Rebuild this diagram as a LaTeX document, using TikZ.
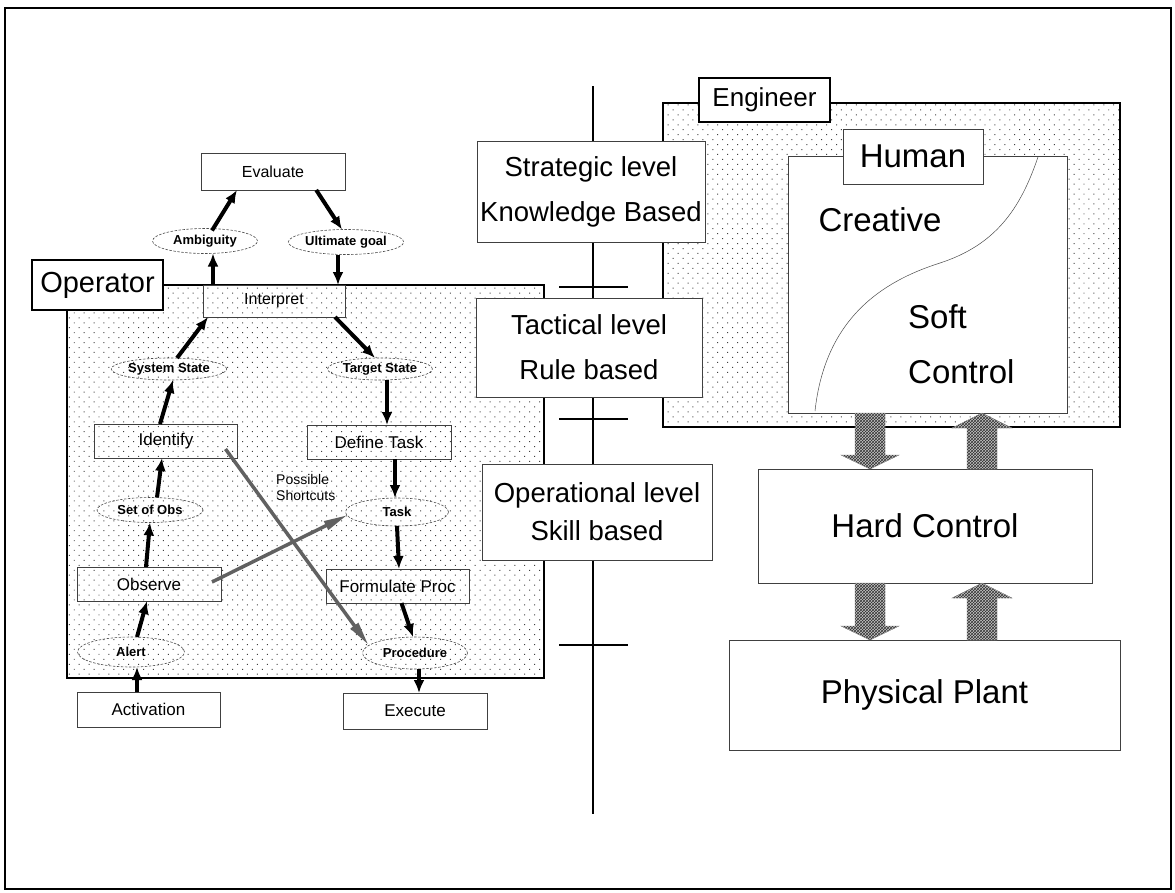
\documentclass[tikz,border=0pt]{standalone}
\usepackage{fontspec}
\setmainfont{Liberation Sans}
\usetikzlibrary{arrows.meta,shapes.geometric,calc,patterns,patterns.meta}

\begin{document}
\begin{tikzpicture}[
  x=1pt, y=-1pt,
  font=\fontsize{17}{20}\selectfont,
  stepbox/.style={draw=black!75, line width=0.6pt, inner sep=0pt, outer sep=0pt, minimum width=143, minimum height=34},
  whitebox/.style={stepbox, fill=white},
  oval/.style={ellipse, draw=black!70, line width=0.6pt, dash pattern=on 2.5pt off 1.5pt, inner sep=0pt, outer sep=0pt, minimum width=105, minimum height=25, font=\fontsize{13}{15}\selectfont\bfseries},
  tag/.style={draw, line width=1.8pt, fill=white, inner sep=0pt, outer sep=0pt},
  levelbox/.style={draw=black!75, line width=0.6pt, fill=white, align=center, inner sep=0pt, font=\fontsize{27.5}{45}\selectfont},
  bigbox/.style={draw=black!75, line width=0.6pt, fill=white, inner sep=0pt, outer sep=0pt, font=\fontsize{33}{40}\selectfont},
  area/.style={draw, line width=2pt, inner sep=0pt, outer sep=0pt, pattern={Dots[distance=7pt, angle=45, radius=0.7pt]}, pattern color=black!75},
  flow/.style={-{Latex[length=13pt,width=11pt]}, line width=4pt},
  shortcut/.style={-{Triangle[length=24pt,width=9pt]}, line width=3.5pt, draw=black!62},
  fat/.style={preaction={fill=gray!45}, pattern=crosshatch, pattern color=black!80, draw=black!50, line width=0.4pt}
]
\useasboundingbox (0,0) rectangle (1175,892);
\draw[line width=1.6pt] (5,8) rectangle (1171,889);

% shaded regions
\node[area, minimum width=477, minimum height=393] (oparea) at (305.5,481.5) {};
\node[area, minimum width=457, minimum height=324] (engarea) at (891.5,265) {};

% level axis
\coordinate (axtop) at (593,86);
\coordinate (axbot) at (593,814);
\draw[line width=2.2pt] (axtop) -- (axbot);
\foreach \ty in {287,419,645}
  \draw[line width=2.6pt] (559,\ty) -- (628,\ty);

\node[levelbox, minimum width=228, minimum height=101] (strat) at (591,191.5) {Strategic level\\Knowledge Based};
\node[levelbox, minimum width=226, minimum height=99] (tact) at (589,347.5) {Tactical level\\Rule based};
\node[levelbox, minimum width=230, minimum height=96] (oper) at (597,512) {Operational level\\[-7pt]Skill based};

% operator loop
\node[tag, minimum width=131, minimum height=50, font=\fontsize{29}{34}\selectfont] (optag) at (97.5,285) {Operator};
\node[whitebox, minimum width=144, minimum height=37, font=\fontsize{16}{19}\selectfont] (eval) at (273,171.5) {Evaluate};
\node[oval] (amb) at (205,241) {Ambiguity};
\node[oval, minimum width=107] (ult) at (346,242) {Ultimate goal};
\node[stepbox, minimum width=142, minimum height=32, font=\fontsize{16}{19}\selectfont] (interp) at (274,301) {Interpret};
\node[oval, minimum width=104, minimum height=22] (sys) at (169,369) {System State};
\node[oval, minimum width=104, minimum height=22] (tgt) at (380,369) {Target State};
\node[stepbox] (ident) at (166,441) {Identify};
\node[stepbox, minimum width=144] (deftask) at (379,442) {Define Task};
\node[oval, minimum width=106] (setobs) at (150,510) {Set of Obs};
\node[oval, minimum width=103, minimum height=28] (task) at (397,512) {Task};
\node[stepbox, minimum width=144] (observe) at (149,584) {Observe};
\node[stepbox] (formproc) at (397.5,586) {Formulate Proc};
\node[oval, minimum width=107, minimum height=30] (alert) at (131,652) {Alert};
\node[oval, minimum height=32] (proc) at (415,653) {Procedure};
\node[whitebox, minimum height=35] (activ) at (148.5,709.5) {Activation};
\node[whitebox, minimum width=144, minimum height=36] (exec) at (415,711) {Execute};
\node[align=left, anchor=west, inner sep=0pt, font=\fontsize{14}{16}\selectfont] (shortlbl) at (276,487) {Possible\\Shortcuts};

\draw[flow] ($(amb.north)+(7,2)$) -- ($(eval.south west)!.25!(eval.south east)$);
\draw[flow] ($(eval.south west)!.8!(eval.south east)$) -- ($(ult.north)+(-4,0)$);
\draw[flow] ($(interp.north west)+(10,0)$) -- ($(amb.south)+(8,0)$);
\draw[flow] ($(ult.south)+(-8,0)$) -- ($(interp.north east)+(-7,0)$);
\draw[flow] ($(sys.north)+(8,0)$) -- ($(interp.south west)+(5,0)$);
\draw[flow] ($(interp.south east)+(-10,0)$) -- ($(tgt.north)+(-5,0)$);
\draw[flow] ($(ident.north)+(-6,0)$) -- ($(sys.south)+(4,0)$);
\draw[flow] ($(tgt.south)+(7,0)$) -- ($(deftask.north)+(8,0)$);
\draw[flow] ($(setobs.north)+(7,0)$) -- ($(ident.south)+(-4,0)$);
\draw[flow] ($(deftask.south)+(16,0)$) -- ($(task.north)+(-2,0)$);
\draw[flow] ($(observe.north)+(-3,0)$) -- (setobs.south);
\draw[flow] (task.south) -- ($(formproc.north)+(1.5,0)$);
\draw[flow] ($(alert.north)+(6,0)$) -- ($(observe.south)+(-2,0)$);
\draw[flow] ($(formproc.south)+(4,0)$) -- ($(proc.north)+(-2,0)$);
\draw[flow] ($(activ.north)+(-11.5,0)$) -- ($(alert.south)+(6,0)$);
\draw[flow] ($(proc.south)+(4,0)$) -- ($(exec.north)+(4,0)$);

\draw[shortcut] ($(ident.south east)+(-12,-9)$) -- ($(proc.west)+(6,-8)$);
\draw[shortcut] ($(observe.east)+(-9,-2)$) -- ($(task.west)+(2,3)$);

% engineer side
\node[tag, minimum width=131, minimum height=44, font=\fontsize{26}{30}\selectfont] (engtag) at (764.5,100) {Engineer};
\node[bigbox, minimum width=279, minimum height=257] (human) at (927.5,284.5) {};
\draw[line width=0.5pt, black!70] (1038,157) .. controls (1020,210) and (995,245) .. (940,263)
  .. controls (880,282) and (825,320) .. (815,411);
\node[bigbox, minimum width=140, minimum height=55] (humantag) at (913,156.5) {Human};
\node[font=\fontsize{33}{40}\selectfont, inner sep=0pt] (creative) at (880,220) {Creative};
\node[font=\fontsize{33}{40}\selectfont, inner sep=0pt, anchor=west] (soft) at (908,317) {Soft};
\node[font=\fontsize{33}{40}\selectfont, inner sep=0pt, anchor=west] (control) at (908,372) {Control};

\node[bigbox, minimum width=334, minimum height=114] (hard) at (925,526) {Hard Control};
\node[bigbox, minimum width=391, minimum height=110] (plant) at (924.5,695) {Physical Plant};

\foreach \upper/\lower in {human/hard, hard/plant} {
  \path[fat] let \p1=(\upper.south), \p2=(\lower.north), \p3=(870,0) in
    (\x3-15pt,\y1) -- (\x3+15pt,\y1) -- (\x3+15pt,\y2+14pt) -- (\x3+29pt,\y2+14pt)
    -- (\x3,\y2) -- (\x3-29pt,\y2+14pt) -- (\x3-15pt,\y2+14pt) -- cycle;
  \path[fat] let \p1=(\lower.north), \p2=(\upper.south), \p3=(982,0) in
    (\x3-15pt,\y1) -- (\x3+15pt,\y1) -- (\x3+15pt,\y2-15pt) -- (\x3+30pt,\y2-15pt)
    -- (\x3,\y2) -- (\x3-30pt,\y2-15pt) -- (\x3-15pt,\y2-15pt) -- cycle;
}
\end{tikzpicture}
\end{document}
